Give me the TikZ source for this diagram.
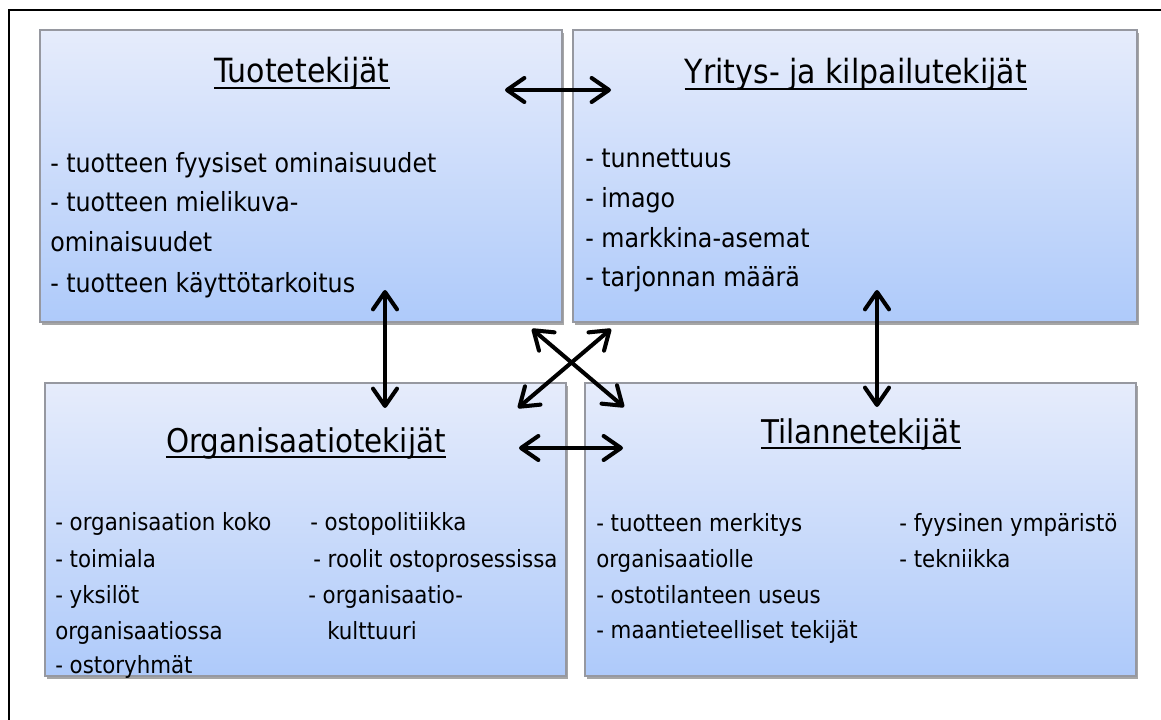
\documentclass[tikz,border=0pt]{standalone}
\usepackage{fontspec}
\setmainfont{DejaVu Sans Condensed}
\usetikzlibrary{arrows.meta,shadows}
\definecolor{boxtop}{RGB}{230,236,251}
\definecolor{boxbot}{RGB}{174,202,250}
\definecolor{boxline}{RGB}{150,152,160}
\begin{document}
\begin{tikzpicture}[x=0.75pt,y=-0.75pt,
  panel/.style={rectangle, draw=boxline, line width=0.8pt, top color=boxtop,
    bottom color=boxbot, inner sep=0,
    drop shadow={shadow xshift=1.5pt,shadow yshift=-2pt,fill=black,opacity=0.35}},
  heading/.style={anchor=base, inner sep=0, font=\fontsize{25}{30}\selectfont},
  item/.style={anchor=base west, inner sep=0, font=\fontsize{19.8}{24}\selectfont},
  smallitem/.style={item, font=\fontsize{17.8}{22}\selectfont},
  link/.style={line width=3pt, {Straight Barb[length=13pt,width=18pt,round]}-{Straight Barb[length=13pt,width=18pt,round]}, line cap=round},
  linkshade/.style={link, draw=black, opacity=0.18, xshift=1pt, yshift=-1.5pt}
]
\useasboundingbox (0,0) rectangle (1161,720);
\fill[white] (0,0) rectangle (1161,720);

% outer frame (only left and top edges fall inside the page)
\draw[line width=1.6pt] (9,722) -- (9,10) -- (1163,10);

% the four factor groups
\node[panel, minimum width=391.5pt, minimum height=219pt] (prod) at (301,176) {};
\node[panel, minimum width=423pt, minimum height=219pt] (firm) at (855,176) {};
\node[panel, minimum width=390.75pt, minimum height=219.75pt] (org) at (305.5,529.5) {};
\node[panel, minimum width=413.25pt, minimum height=219.75pt] (sit) at (860.5,529.5) {};

% headings
\node[heading] (prodT) at (302,83) {Tuotetekijät};
\node[heading] (firmT) at (856,84) {Yritys- ja kilpailutekijät};
\node[heading, font=\fontsize{24.5}{30}\selectfont] (orgT) at (306,452) {Organisaatiotekijät};
\node[heading, font=\fontsize{24.5}{30}\selectfont] (sitT) at (861,443) {Tilannetekijät};
\foreach \t in {prodT,firmT,orgT,sitT}
  \draw[line width=1.2pt] ([yshift=-3.8pt]\t.base west) -- ([yshift=-3.8pt]\t.base east);

% product factors
\node[item] (p1) at (50,173) {- tuotteen fyysiset ominaisuudet};
\node[item] (p2) at (50,212) {- tuotteen mielikuva-};
\node[item] (p3) at (50,252) {ominaisuudet};
\node[item] (p4) at (50,293) {- tuotteen käyttötarkoitus};

% company and competition factors
\node[item] (f1) at (585,168) {- tunnettuus};
\node[item] (f2) at (585,208) {- imago};
\node[item] (f3) at (585,248) {- markkina-asemat};
\node[item] (f4) at (585,287) {- tarjonnan määrä};

% organisational factors
\node[smallitem] (o1) at (55,530) {- organisaation koko};
\node[smallitem] (o2) at (55,567) {- toimiala};
\node[smallitem] (o3) at (55,603) {- yksilöt};
\node[smallitem] (o4) at (55,639) {organisaatiossa};
\node[smallitem] (o5) at (55,673) {- ostoryhmät};
\node[smallitem] (o6) at (310,530) {- ostopolitiikka};
\node[smallitem] (o7) at (313,567) {- roolit ostoprosessissa};
\node[smallitem] (o8) at (308,603) {- organisaatio-};
\node[smallitem] (o9) at (327,639) {kulttuuri};

% situational factors
\node[smallitem] (s1) at (596,531) {- tuotteen merkitys};
\node[smallitem] (s2) at (596,567) {organisaatiolle};
\node[smallitem] (s3) at (596,603) {- ostotilanteen useus};
\node[smallitem] (s4) at (596,638) {- maantieteelliset tekijät};
\node[smallitem] (s5) at (899,531) {- fyysinen ympäristö};
\node[smallitem] (s6) at (899,567) {- tekniikka};

% arrow end points
\coordinate (h1a) at (505,90);  \coordinate (h1b) at (611,90);
\coordinate (h2a) at (519,448); \coordinate (h2b) at (623,448);
\coordinate (v1a) at (385,290); \coordinate (v1b) at (385,408);
\coordinate (v2a) at (877,290); \coordinate (v2b) at (877,407);
\coordinate (d1a) at (532,329); \coordinate (d1b) at (624,407);
\coordinate (d2a) at (611,329); \coordinate (d2b) at (518,408);

% two-way influences, with a faint shadow under each
\foreach \a/\b in {h1a/h1b,h2a/h2b,v1a/v1b,v2a/v2b,d1a/d1b,d2a/d2b}
  \draw[linkshade] (\a) -- (\b);
\draw[link] (h1a) -- (h1b);
\draw[link] (h2a) -- (h2b);
\draw[link] (v1a) -- (v1b);
\draw[link] (v2a) -- (v2b);
\draw[link] (d1a) -- (d1b);
\draw[link] (d2a) -- (d2b);
\end{tikzpicture}
\end{document}
